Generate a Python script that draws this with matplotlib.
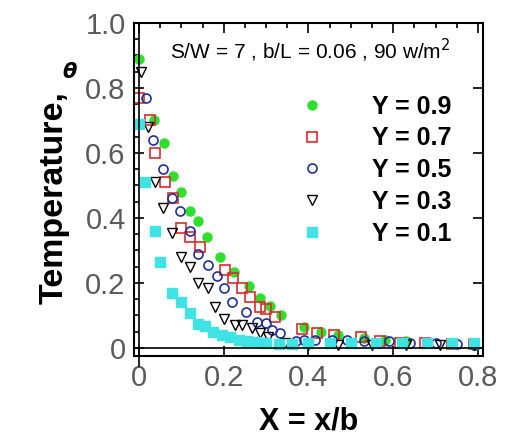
import matplotlib
matplotlib.use('Agg')
import matplotlib.pyplot as plt
from matplotlib.ticker import MultipleLocator

# data
x9 = [0.0, 0.035, 0.06, 0.08, 0.10, 0.12, 0.14, 0.16, 0.19, 0.225, 0.26, 0.285, 0.31, 0.335,
      0.39, 0.43, 0.47, 0.53, 0.58, 0.63, 0.68, 0.74, 0.79]
y9 = [0.89, 0.70, 0.63, 0.53, 0.48, 0.42, 0.39, 0.34, 0.28, 0.235, 0.19, 0.155, 0.13, 0.10,
      0.065, 0.05, 0.04, 0.03, 0.025, 0.02, 0.015, 0.012, 0.01]

x7 = [0.0, 0.026, 0.038, 0.061, 0.08, 0.10, 0.12, 0.144, 0.203, 0.222, 0.243, 0.262, 0.285,
      0.30, 0.32, 0.385, 0.42, 0.46, 0.525, 0.57, 0.615, 0.675, 0.74, 0.79]
y7 = [0.77, 0.70, 0.60, 0.51, 0.46, 0.37, 0.34, 0.31, 0.24, 0.215, 0.185, 0.157, 0.126,
      0.12, 0.095, 0.058, 0.046, 0.04, 0.035, 0.022, 0.016, 0.015, 0.013, 0.012]

x5 = [0.017, 0.033, 0.057, 0.078, 0.097, 0.12, 0.14, 0.163, 0.184, 0.20, 0.22, 0.252, 0.278,
      0.30, 0.313, 0.333, 0.37, 0.39, 0.415, 0.455, 0.49, 0.53, 0.59, 0.64, 0.70, 0.75, 0.79]
y5 = [0.77, 0.64, 0.55, 0.46, 0.42, 0.36, 0.29, 0.255, 0.22, 0.184, 0.14, 0.11, 0.08,
      0.077, 0.055, 0.046, 0.02, 0.025, 0.025, 0.025, 0.025, 0.02, 0.02, 0.015, 0.015, 0.012, 0.01]

x3 = [0.005, 0.02, 0.038, 0.057, 0.078, 0.10, 0.12, 0.14, 0.163, 0.18, 0.20, 0.226, 0.242,
      0.266, 0.285, 0.305, 0.345, 0.40, 0.47, 0.55, 0.63, 0.71, 0.79]
y3 = [0.85, 0.68, 0.51, 0.43, 0.354, 0.28, 0.25, 0.20, 0.185, 0.126, 0.09, 0.07, 0.07,
      0.06, 0.046, 0.034, 0.015, 0.01, 0.01, 0.008, 0.01, 0.01, 0.01]

x1 = [0.0, 0.014, 0.038, 0.05, 0.078, 0.10, 0.12, 0.14, 0.156, 0.175, 0.195, 0.215, 0.235,
      0.255, 0.275, 0.30, 0.33, 0.36, 0.40, 0.45, 0.50, 0.56, 0.62, 0.68, 0.74, 0.79]
y1 = [0.69, 0.51, 0.36, 0.265, 0.17, 0.14, 0.107, 0.074, 0.068, 0.05, 0.04, 0.032, 0.025,
      0.02, 0.018, 0.015, 0.012, 0.012, 0.015, 0.015, 0.015, 0.015, 0.015, 0.015, 0.015, 0.015]

labels = ['Y = 0.9', 'Y = 0.7', 'Y = 0.5', 'Y = 0.3', 'Y = 0.1']

plt.rcParams['font.family'] = ['Liberation Sans', 'DejaVu Sans']

fig = plt.figure(figsize=(5.18, 4.43), dpi=100)
ax = fig.add_axes([0.2587, 0.1964, 0.6737, 0.7517])

ax.plot(x9, y9, 'o', color='#2ee02e', ms=6.5, mec='#2ee02e', ls='none', label=labels[0])
ax.plot(x7, y7, 's', color='#dd2a2a', ms=7.5, mfc='none', mew=1.2, ls='none', label=labels[1])
ax.plot(x5, y5, 'o', color='#1f2f9c', ms=6.5, mfc='none', mew=1.2, ls='none', label=labels[2])
ax.plot(x3, y3, 'v', color='black', ms=6.5, mfc='none', mew=1.0, ls='none', label=labels[3])
ax.plot(x1, y1, 's', color='#3fe3e3', ms=6.5, mec='#3fe3e3', ls='none', label=labels[4])

ax.axhline(0, color='black', lw=1.2)
ax.axvline(0, color='black', lw=1.2, ymin=-0.03, clip_on=False)

ax.set_xlim(-0.012, 0.812)
ax.set_ylim(-0.025, 1.0)

ax.xaxis.set_minor_locator(MultipleLocator(0.05))
ax.yaxis.set_minor_locator(MultipleLocator(0.05))
ax.set_xticks([0, 0.2, 0.4, 0.6, 0.8])
ax.set_xticklabels(['0', '0.2', '0.4', '0.6', '0.8'])
ax.set_yticks([0, 0.2, 0.4, 0.6, 0.8, 1.0])
ax.set_yticklabels(['0', '0.2', '0.4', '0.6', '0.8', '1.0'])

ax.tick_params(which='both', direction='in', top=True, right=True, colors='black',
               labelcolor='#5a5a5a', labelsize=21, width=1.2)
ax.tick_params(which='major', length=7, pad=6)
ax.tick_params(which='minor', length=3.5)
ax.tick_params(axis='x', which='minor', bottom=False)
ax.tick_params(axis='y', which='minor', right=False)
for s in ax.spines.values():
    s.set_linewidth(1.5)

ax.set_xlabel('X = x/b', fontsize=22, fontweight='bold', labelpad=10)
fig.text(0.105, 0.555, 'Temperature,', rotation=90, fontsize=24.5, fontweight='bold',
         ha='center', va='center')
fig.text(0.135, 0.838, r'$\boldsymbol{\theta}$', fontsize=15, ha='center', va='center')

ax.text(0.504, 0.919, 'S/W = 7 , b/L = 0.06 , 90 w/m$^{2}$', transform=ax.transAxes,
        ha='center', va='center', fontsize=15)

ax.legend(loc='upper left', bbox_to_anchor=(0.474, 0.785), frameon=False,
          prop={'size': 18, 'weight': 'bold'}, handlelength=1, handletextpad=1.9,
          labelspacing=0.31, borderpad=0, borderaxespad=0, numpoints=1)

fig.savefig('out.png', dpi=100)
